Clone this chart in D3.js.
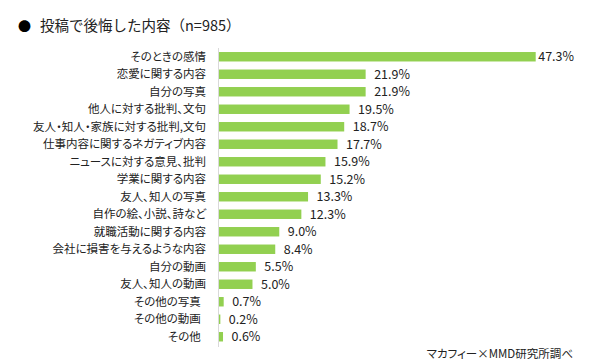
<!DOCTYPE html>
<html><head><meta charset="utf-8">
<script src="https://cdn.jsdelivr.net/npm/d3@7"></script>
<style>
body{margin:0;background:#fff;}
svg{font-family:"Noto Sans CJK JP","Noto Sans",sans-serif;font-feature-settings:"palt";}
.title{font-feature-settings:normal;}
</style></head>
<body><svg id="c" width="590" height="364"></svg>
<script>
const title = "投稿で後悔した内容（n=985）";
const source = "マカフィー×MMD研究所調べ";
const categories = ["そのときの感情","恋愛に関する内容","自分の写真","他人に対する批判、文句","友人・知人・家族に対する批判,文句","仕事内容に関するネガティブ内容","ニュースに対する意見、批判","学業に関する内容","友人、知人の写真","自作の絵、小説、詩など","就職活動に関する内容","会社に損害を与えるような内容","自分の動画","友人、知人の動画","その他の写真  ","その他の動画  ","その他  "];
const values = [47.3,21.9,21.9,19.5,18.7,17.7,15.9,15.2,13.3,12.3,9.0,8.4,5.5,5.0,0.7,0.2,0.6];

const svg = d3.select("#c");
const x0 = 219;
const x = d3.scaleLinear().domain([0, 47.3]).range([x0, 535.7]);
const y = d3.scaleBand().domain(categories).range([48, 345.5]).paddingInner(0.46).paddingOuter(0.23);

svg.append("text").attr("x",18).attr("y",31).attr("font-size",13).attr("fill","#000").text("●");
svg.append("text").attr("class","title").attr("x",40).attr("y",31).attr("font-size",14.5).attr("fill","#222").text(title);

svg.append("line").attr("x1",218.5).attr("x2",218.5).attr("y1",48).attr("y2",347)
  .attr("stroke","#d9d9d9").attr("stroke-width",1);

const data = categories.map((c,i)=>({c, v: values[i]}));

svg.selectAll("rect.bar").data(data).enter().append("rect").attr("class","bar")
  .attr("x", x0).attr("y", d=>y(d.c)).attr("height", y.bandwidth())
  .attr("width", d=>x(d.v)-x0).attr("fill","#92d050");

svg.selectAll("text.cat").data(data).enter().append("text").attr("class","cat")
  .attr("x",206).attr("y", d=>y(d.c)+y.bandwidth()/2).attr("dy","0.36em")
  .attr("text-anchor","end").attr("font-size",11.5).attr("fill","#222")
  .style("white-space","pre").text(d=>d.c);

svg.selectAll("text.val").data(data).enter().append("text").attr("class","val")
  .attr("y", d=>y(d.c)+y.bandwidth()/2).attr("dy","0.36em")
  .attr("font-size",12.5).attr("fill","#222")
  .text(d=>d.v.toFixed(1)+"%")
  .each(function(d){
    const w = this.getComputedTextLength();
    d3.select(this).attr("x", Math.min(x(d.v)+8.5, 574 - w));
  });

svg.append("text").attr("x",573).attr("y",358).attr("text-anchor","end")
  .attr("font-size",11.5).attr("fill","#222").text(source);
</script></body></html>
